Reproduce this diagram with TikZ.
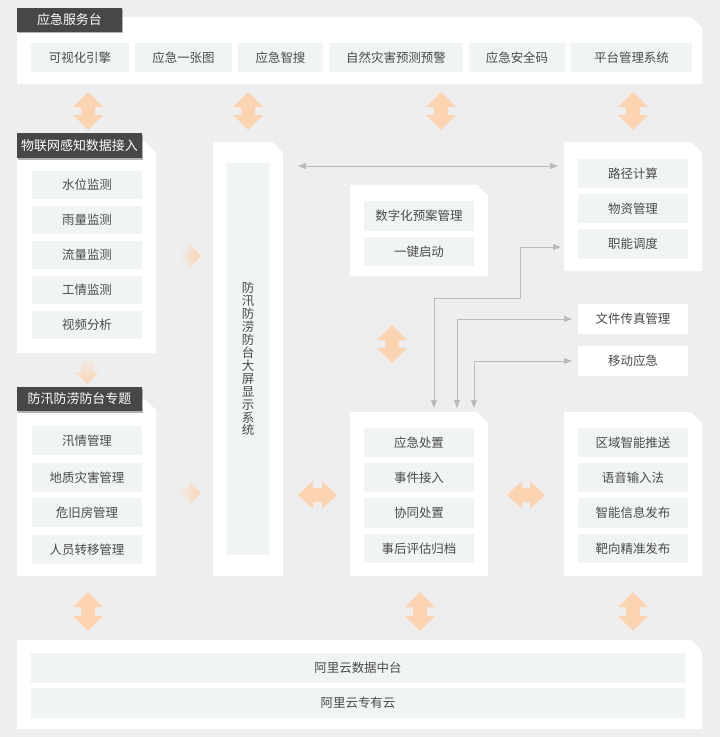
\documentclass[tikz,border=0pt]{standalone}
\usepackage{fontspec}
\setmainfont{Noto Sans CJK SC}
\usetikzlibrary{arrows.meta,shadows}
\definecolor{bgcol}{HTML}{EEEEEE}
\definecolor{itemcol}{HTML}{F1F4F5}
\definecolor{txtcol}{HTML}{4A4A4A}
\definecolor{labelcol}{HTML}{474747}
\definecolor{peach}{HTML}{FDD4B1}
\definecolor{linecol}{HTML}{BBBBBB}
\def\chamferpanel(#1,#2)(#3,#4){\fill[white] (#1,#2) -- ({#3-11},#2) -- (#3,{#2+11}) -- (#3,#4) -- (#1,#4) -- cycle;}
\def\cellbox#1[#2](#3,#4)(#5,#6)#7{\node[#2, minimum width={(#5-#3)*1bp}, minimum height={(#6-#4)*1bp}] (#1) at ({(#3+#5)/2},{(#4+#6)/2}) {#7};}
\def\vbiarrow(#1,#2,#3){\fill[peach] (#1,#2) -- ({#1+15},{#2+15}) -- ({#1+7},{#2+15}) -- ({#1+7},{#3-15}) -- ({#1+15},{#3-15}) -- (#1,#3) -- ({#1-15},{#3-15}) -- ({#1-7},{#3-15}) -- ({#1-7},{#2+15}) -- ({#1-15},{#2+15}) -- cycle;}
\def\hbiarrow(#1,#2,#3){\fill[peach] (#2,#1) -- ({#2+15},{#1-14}) -- ({#2+15},{#1-7}) -- ({#3-15},{#1-7}) -- ({#3-15},{#1-14}) -- (#3,#1) -- ({#3-15},{#1+14}) -- ({#3-15},{#1+7}) -- ({#2+15},{#1+7}) -- ({#2+15},{#1+14}) -- cycle;}
\def\fadearrow(#1,#2){\shade[left color=bgcol, right color=peach] (#1,#2) -- ({#1-12},{#2-12}) -- ({#1-12},{#2-6}) -- ({#1-22},{#2-6}) -- ({#1-22},{#2+6}) -- ({#1-12},{#2+6}) -- ({#1-12},{#2+12}) -- cycle;}
\tikzset{
	item/.style={fill=itemcol, text=txtcol, inner sep=0pt, outer sep=0pt, font=\fontsize{12.5}{15}\selectfont},
	whiteitem/.style={item, fill=white},
	label/.style={fill=labelcol, text=white, inner sep=0pt, outer sep=0pt, font=\fontsize{13}{15}\selectfont, drop shadow={shadow xshift=1bp, shadow yshift=-1.5bp, opacity=0.3, fill=black}},
	link/.style={draw=linecol, line width=0.8bp, {Triangle[length=8bp,width=6bp]}-{Triangle[length=8bp,width=6bp]}}
}
\begin{document}
\begin{tikzpicture}[x=1bp, y=-1bp]
			%%%%% START %%%%%
			
			\fill[bgcol] (0,0) rectangle (720,737);
			\useasboundingbox (0,0) rectangle (720,737);
			
			% panels
			\chamferpanel(17,17)(702,84);
			\chamferpanel(17,142)(156,353);
			\chamferpanel(17,399)(156,576);
			\chamferpanel(213,142)(283,576);
			\chamferpanel(350,185)(488,276);
			\chamferpanel(564,142)(702,271);
			\chamferpanel(350,412)(488,576);
			\chamferpanel(564,412)(702,576);
			\chamferpanel(17,640)(702,729);
			
			% big arrows
			\vbiarrow(88,92,130);
			\vbiarrow(248,92,130);
			\vbiarrow(441,92,130);
			\vbiarrow(633,92,130);
			\vbiarrow(392,325,363);
			\vbiarrow(88,592,631);
			\vbiarrow(420,592,631);
			\vbiarrow(633,592,631);
			\hbiarrow(495,298,337);
			\hbiarrow(495,507,545);
			\fadearrow(201,256);
			\fadearrow(201,493);
			\shade[top color=bgcol, bottom color=peach] (87,384) -- (75,372) -- (81,372) -- (81,357) -- (93,357) -- (93,372) -- (99,372) -- cycle;
			
			% top row
			\cellbox{ttlTop}[label](17,8)(122,32){应急服务台}
			\cellbox{kshyq}[item](31,43)(129,72){可视化引擎}
			\cellbox{yjyzt}[item](135,43)(232,72){应急一张图}
			\cellbox{yjzs}[item](238,43)(323,72){应急智搜}
			\cellbox{zrzh}[item](329,43)(463,72){自然灾害预测预警}
			\cellbox{aqm}[item](469,43)(565,72){应急安全码}
			\cellbox{ptgl}[item](571,43)(692,72){平台管理系统}
			
			% left column
			\cellbox{ttlIot}[label](17,133)(142,158){物联网感知数据接入}
			\cellbox{swjc}[item](32,171)(142,199){水位监测}
			\cellbox{yljc}[item](32,206)(142,234){雨量监测}
			\cellbox{lljc}[item](32,241)(142,269){流量监测}
			\cellbox{gqjc}[item](32,276)(142,304){工情监测}
			\cellbox{spfx}[item](32,311)(142,339){视频分析}
			
			\cellbox{ttlFx}[label](17,387)(142,411){防汛防涝防台专题}
			\cellbox{xqgl}[item](32,426)(142,455){汛情管理}
			\cellbox{dzzh}[item](32,463)(142,492){地质灾害管理}
			\cellbox{wjf}[item](32,498)(142,527){危旧房管理}
			\cellbox{ryzy}[item](32,535)(142,564){人员转移管理}
			
			% screen
			\cellbox{scr}[item, align=center, font=\fontsize{12.5}{13}\selectfont](227,163)(269,555){防\\汛\\防\\涝\\防\\台\\大\\屏\\显\\示\\系\\统}
			
			% middle
			\cellbox{szya}[item](364,201)(474,231){数字化预案管理}
			\cellbox{yjqd}[item](364,237)(474,266){一键启动}
			
			\cellbox{yjcz}[item](364,428)(474,457){应急处置}
			\cellbox{sjjr}[item](364,463)(474,492){事件接入}
			\cellbox{xtcz}[item](364,498)(474,528){协同处置}
			\cellbox{shpg}[item](364,534)(474,563){事后评估归档}
			
			% right
			\cellbox{ljjs}[item](578,159)(688,188){路径计算}
			\cellbox{wzgl}[item](578,194)(688,223){物资管理}
			\cellbox{zndd}[item](578,229)(688,259){职能调度}
			
			\cellbox{wjcz}[whiteitem](578,304)(688,334){文件传真管理}
			\cellbox{ydyj}[whiteitem](578,346)(688,376){移动应急}
			
			\cellbox{qyts}[item](578,428)(688,457){区域智能推送}
			\cellbox{yysr}[item](578,463)(688,492){语音输入法}
			\cellbox{znxx}[item](578,498)(688,528){智能信息发布}
			\cellbox{bxfb}[item](578,534)(688,563){靶向精准发布}
			
			% bottom
			\cellbox{sjzt}[item](31,653)(685,683){阿里云数据中台}
			\cellbox{zyy}[item](31,688)(685,718){阿里云专有云}
			
			% thin links
			\coordinate (scrE) at (298,166);
			\coordinate (routeW) at (558,166);
			\coordinate (dutyW) at (561,247);
			\coordinate (dispA) at (434,408);
			\coordinate (dispB) at (457,408);
			\coordinate (dispC) at (474,408);
			\draw[link] (scrE) -- (routeW);
			\draw[link] (dispA) |- (520,298) |- (dutyW);
			\draw[link, shorten >=6bp] (dispB) |- (wjcz);
			\draw[link, shorten >=6bp] (dispC) |- (ydyj);
			
			%%%%% END %%%%%
\end{tikzpicture}
\end{document}
